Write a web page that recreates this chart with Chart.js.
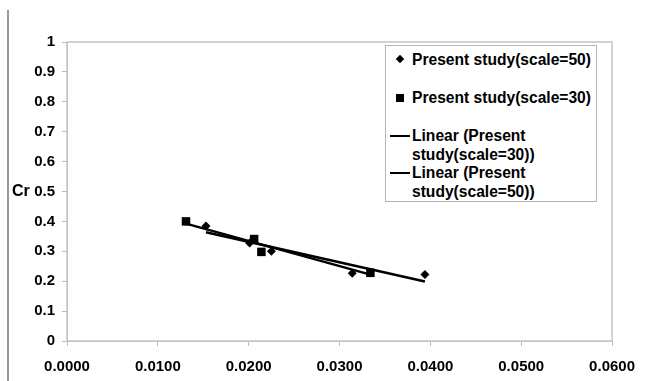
<!DOCTYPE html>
<html>
<head>
<meta charset="utf-8">
<script src="https://cdn.jsdelivr.net/npm/chart.js@4.4.1/dist/chart.umd.min.js"></script>
<style>
  body { margin: 0; background: #fff; font-family: "Liberation Sans", Arial, sans-serif; }
  #wrap { position: relative; width: 647px; height: 381px; }
  #frame { position: absolute; left: 7px; top: 10px; bottom: 0; width: 2px; background: #999; }
  #ytitle { position: absolute; left: 12px; top: 182px; font-weight: bold; font-size: 16px; }
  #legend { position: absolute; left: 385px; top: 45px; width: 212px; height: 157px; border: 1px solid #b5b5b5; background: #fff; box-sizing: border-box; }
  .item { position: absolute; left: 26px; font-weight: bold; font-size: 15.6px; line-height: 19px; white-space: nowrap; }
  .mark { position: absolute; background: #000; }
</style>
</head>
<body>
<div id="wrap">
  <canvas id="chart" width="647" height="381"></canvas>
  <div id="frame"></div>
  <div id="ytitle">Cr</div>
  <div id="legend"></div>
</div>
<script>
// values
const x_scale50 = [0.0153, 0.0201, 0.0225, 0.0314, 0.0394];
const cr_scale50 = [0.385, 0.328, 0.300, 0.227, 0.222];
const x_scale30 = [0.0131, 0.0206, 0.0214, 0.0334];
const cr_scale30 = [0.400, 0.341, 0.298, 0.228];

const label50 = 'Present study(scale=50)';
const label30 = 'Present study(scale=30)';
const trendLabel30 = ['Linear (Present', 'study(scale=30))'];
const trendLabel50 = ['Linear (Present', 'study(scale=50))'];

// least squares trendline over the data range, like Excel's linear trendline
function trendline(xs, ys) {
    var n = xs.length;
    var mx = xs.reduce((a, b) => a + b, 0) / n;
    var my = ys.reduce((a, b) => a + b, 0) / n;
    var sxy = 0, sxx = 0;
    for (var i = 0; i < n; i++) {
        sxy += (xs[i] - mx) * (ys[i] - my);
        sxx += (xs[i] - mx) * (xs[i] - mx);
    }
    var slope = sxy / sxx;
    var lo = Math.min(...xs), hi = Math.max(...xs);
    return [
        {x: lo, y: my + slope * (lo - mx)},
        {x: hi, y: my + slope * (hi - mx)}
    ];
}

const toPoints = (xs, ys) => xs.map((x, i) => ({x: x, y: ys[i]}));

// light gray box round the plot area
const plotBox = {
    id: 'plotBox',
    afterDraw(chart) {
        const a = chart.chartArea, ctx = chart.ctx;
        ctx.save();
        ctx.strokeStyle = '#c4c4c4';
        ctx.lineWidth = 1.5;
        ctx.strokeRect(a.left, a.top, a.right - a.left, a.bottom - a.top);
        ctx.restore();
    }
};

const tickFont = {family: '"Liberation Sans", Arial, sans-serif', size: 15, weight: 'bold'};

var ctx = document.getElementById('chart').getContext('2d');
var chart = new Chart(ctx, {
    type: 'scatter',
    data: {
        datasets: [
            {
                label: label50,
                data: toPoints(x_scale50, cr_scale50),
                pointStyle: 'rectRot',
                pointRadius: 4.5,
                backgroundColor: '#000',
                borderColor: '#000',
                borderWidth: 0
            },
            {
                label: label30,
                data: toPoints(x_scale30, cr_scale30),
                pointStyle: 'rect',
                pointRadius: 6,
                backgroundColor: '#000',
                borderColor: '#000',
                borderWidth: 0
            },
            {
                label: trendLabel30.join(' '),
                data: trendline(x_scale30, cr_scale30),
                showLine: true,
                pointRadius: 0,
                borderColor: '#000',
                borderWidth: 2.5
            },
            {
                label: trendLabel50.join(' '),
                data: trendline(x_scale50, cr_scale50),
                showLine: true,
                pointRadius: 0,
                borderColor: '#000',
                borderWidth: 2.5
            }
        ]
    },
    options: {
        responsive: false,
        animation: false,
        layout: { padding: { top: 42, right: 24, left: 0, bottom: 0 } },
        plugins: { legend: { display: false }, tooltip: { enabled: false } },
        scales: {
            x: {
                type: 'linear',
                min: 0,
                max: 0.06,
                ticks: {
                    stepSize: 0.01,
                    color: '#000',
                    font: tickFont,
                    padding: 12,
                    maxRotation: 0,
                    callback: v => v.toFixed(4)
                },
                grid: { drawOnChartArea: false, tickLength: 5, color: '#bbb' },
                border: { color: '#c4c4c4' },
                afterFit: s => { s.height = 40; }
            },
            y: {
                min: 0,
                max: 1,
                ticks: {
                    stepSize: 0.1,
                    color: '#000',
                    font: tickFont,
                    padding: 7,
                    callback: v => (v === 0 || v === 1) ? String(v) : v.toFixed(1)
                },
                grid: { drawOnChartArea: false, tickLength: 5, color: '#bbb' },
                border: { color: '#c4c4c4' },
                afterFit: s => { s.width = 67; }
            }
        }
    },
    plugins: [plotBox]
});

// legend box, built from the labels above
var legend = document.getElementById('legend');
var rows = [
    {lines: [label50], top: 4, mark: 'diamond'},
    {lines: [label30], top: 42, mark: 'square'},
    {lines: trendLabel30, top: 80, mark: 'line'},
    {lines: trendLabel50, top: 117, mark: 'line'}
];
rows.forEach(r => {
    var d = document.createElement('div');
    d.className = 'item';
    d.style.top = r.top + 'px';
    d.innerHTML = r.lines.join('<br>');
    legend.appendChild(d);
    var m = document.createElement('div');
    m.className = 'mark';
    if (r.mark === 'diamond') {
        m.style.cssText = 'left:11px;top:' + (r.top + 6) + 'px;width:6px;height:6px;transform:rotate(45deg);';
    } else if (r.mark === 'square') {
        m.style.cssText = 'left:10px;top:' + (r.top + 6) + 'px;width:8px;height:8px;';
    } else {
        m.style.cssText = 'left:4px;top:' + (r.top + 9) + 'px;width:20px;height:2px;';
    }
    legend.appendChild(m);
});
</script>
</body>
</html>
